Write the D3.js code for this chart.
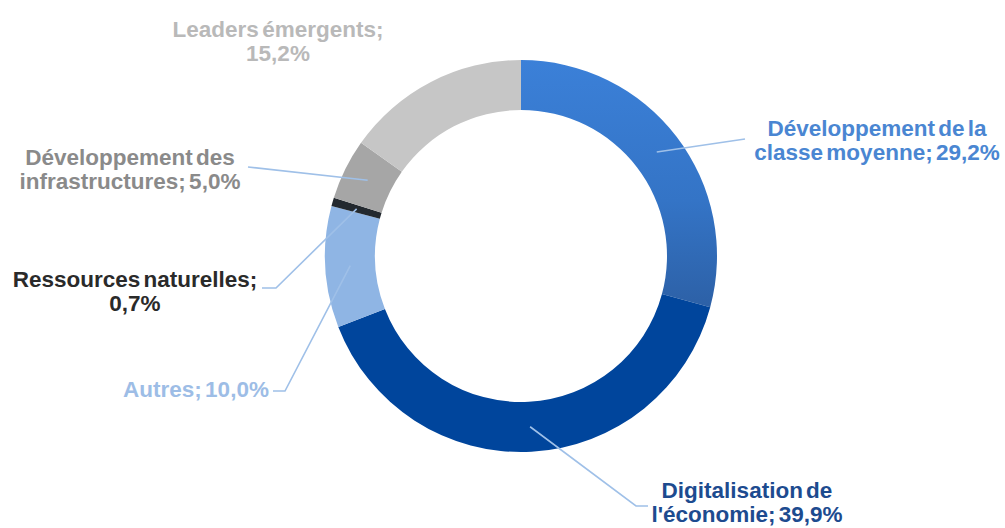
<!DOCTYPE html>
<meta charset="utf-8">
<style>
body { margin: 0; background: #fff; }
.label {
  font: bold 22.5px "Liberation Sans", Arial, sans-serif;
  word-spacing: -3px;
  text-anchor: middle;
}
.leader {
  fill: none;
  stroke: #9fc0e8;
  stroke-width: 1.6px;
}
</style>
<svg width="1005" height="528"></svg>
<script src="https://d3js.org/d3.v7.min.js"></script>
<script>

// slices, clockwise from 12 o'clock
var names = ["Développement de la classe moyenne", "Digitalisation de l'économie", "Autres",
             "Ressources naturelles", "Développement des infrastructures", "Leaders émergents"];
var values = [29.2, 39.9, 10.0, 0.7, 5.0, 15.2];
var labelLines = [
  ["Développement de la", "classe moyenne; 29,2%"],
  ["Digitalisation de", "l'économie; 39,9%"],
  ["Autres; 10,0%"],
  ["Ressources naturelles;", "0,7%"],
  ["Développement des", "infrastructures; 5,0%"],
  ["Leaders émergents;", "15,2%"]
];
var fills = ["url(#gradMoyenne)", "#00459c", "#8fb5e4", "#23292f", "#a6a6a6", "#c6c6c6"];
var textColors = ["#4a86d2", "#1d4b8f", "#9dbde6", "#2a2a2a", "#8a8a8a", "#b9b9b9"];

// label layout: text centre x, first baseline y, leader path after the slice point
var layout = [
  { x: 877, y: 136, path: [[745, 139]] },
  { x: 747, y: 498, path: [[636, 506], [648, 506]] },
  { x: 196, y: 397, path: [[285, 391], [273, 391]] },
  { x: 135, y: 287, path: [[276, 288], [262, 288]] },
  { x: 130, y: 165, path: [[248, 167]] },
  { x: 278, y: 37, path: null }
];

var svg = d3.select("svg"),
    cx = 521, cy = 256,
    outer = 196, inner = 146,
    g = svg.append("g").attr("transform", "translate(" + cx + "," + cy + ")");

var defs = svg.append("defs");
var grad = defs.append("linearGradient")
    .attr("id", "gradMoyenne")
    .attr("gradientUnits", "userSpaceOnUse")
    .attr("x1", 0).attr("y1", -outer).attr("x2", 0).attr("y2", 60);
grad.append("stop").attr("offset", "0%").attr("stop-color", "#3b80d8");
grad.append("stop").attr("offset", "55%").attr("stop-color", "#3474c6");
grad.append("stop").attr("offset", "100%").attr("stop-color", "#2c5fa4");

var pie = d3.pie().sort(null).value(function(d) { return d; });
var arc = d3.arc().innerRadius(inner).outerRadius(outer);
var arcs = pie(values);

g.selectAll("path.slice")
  .data(arcs)
  .enter().append("path")
    .attr("class", "slice")
    .attr("d", arc)
    .attr("fill", function(d, i) { return fills[i]; });

var line = d3.line();

arcs.forEach(function(d, i) {
  var L = layout[i];
  if (L.path) {
    var c = arc.centroid(d);
    var pts = [[c[0] + cx, c[1] + cy]].concat(L.path);
    svg.append("path").attr("class", "leader").attr("d", line(pts));
  }
  var t = svg.append("text")
      .attr("class", "label")
      .attr("fill", textColors[i])
      .attr("x", L.x).attr("y", L.y);
  labelLines[i].forEach(function(s, j) {
    t.append("tspan").attr("x", L.x).attr("dy", j === 0 ? 0 : 24).text(s);
  });
});

</script>
